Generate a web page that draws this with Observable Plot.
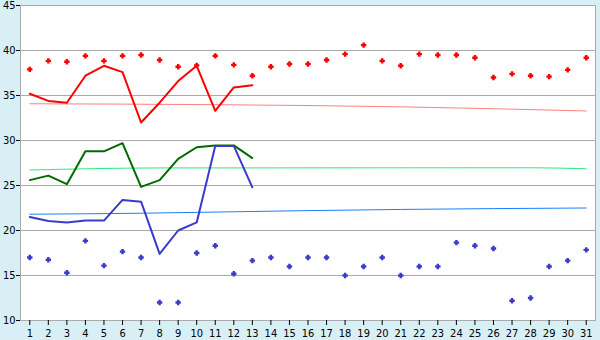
<!DOCTYPE html>
<html>
<head>
<meta charset="utf-8">
<script src="https://cdn.jsdelivr.net/npm/d3@7"></script>
<script src="https://cdn.jsdelivr.net/npm/@observablehq/plot@0.6"></script>
<style>
  html, body { margin: 0; padding: 0; background: #d9eff6; }
  svg { display: block; }
</style>
</head>
<body>
<div id="chart"></div>
<script>
const days = [1,2,3,4,5,6,7,8,9,10,11,12,13,14,15,16,17,18,19,20,21,22,23,24,25,26,27,28,29,30,31];
const yTicks = [10, 15, 20, 25, 30, 35, 40, 45];

// Record highs / lows (markers)
const maxPoints = [37.9, 38.85, 38.75, 39.4, 38.85, 39.4, 39.5, 38.95, 38.2, 38.35, 39.4, 38.4, 37.2, 38.2, 38.5, 38.5, 38.95, 39.6, 40.6, 38.85, 38.3, 39.6, 39.5, 39.5, 39.2, 37.0, 37.4, 37.2, 37.1, 37.85, 39.2];
const minPoints = [17.0, 16.75, 15.3, 18.85, 16.1, 17.65, 17.0, 12.0, 12.0, 17.5, 18.3, 15.2, 16.65, 17.0, 16.0, 17.0, 17.0, 15.0, 16.0, 17.0, 15.0, 16.0, 16.0, 18.65, 18.3, 18.0, 12.2, 12.5, 16.0, 16.65, 17.85];

// Current month (days 1-13)
const maxLine = [35.2, 34.4, 34.2, 37.2, 38.3, 37.6, 32.0, 34.2, 36.6, 38.3, 33.3, 35.9, 36.15];
const meanLine = [25.6, 26.1, 25.15, 28.8, 28.8, 29.7, 24.85, 25.6, 27.95, 29.25, 29.45, 29.45, 28.05];
const minLine = [21.5, 21.05, 20.9, 21.1, 21.1, 23.4, 23.2, 17.4, 20.0, 20.9, 29.4, 29.4, 24.8];

// Normals (thin lines)
const normMaxDays = [1, 11, 21, 26, 31];
const normMax = [34.08, 33.98, 33.74, 33.53, 33.28];
const normMeanDays = [1, 8, 28, 31];
const normMean = [26.72, 26.95, 26.97, 26.86];
const normMinDays = [1, 7, 12, 16, 21, 31];
const normMin = [21.81, 21.92, 22.08, 22.21, 22.34, 22.5];

const pts = (xs, ys) => ys.map((v, i) => ({x: xs[i], y: v}));

// Thick-armed plus marker
const fatPlus = {
  draw(context, size) {
    const r = Math.sqrt(size / Math.PI);
    const a = r * 0.45;
    context.moveTo(-a, -r);
    context.lineTo(a, -r);
    context.lineTo(a, -a);
    context.lineTo(r, -a);
    context.lineTo(r, a);
    context.lineTo(a, a);
    context.lineTo(a, r);
    context.lineTo(-a, r);
    context.lineTo(-a, a);
    context.lineTo(-r, a);
    context.lineTo(-r, -a);
    context.lineTo(-a, -a);
    context.closePath();
  }
};

const chart = Plot.plot({
  width: 600,
  height: 340,
  marginLeft: 20,
  marginRight: 5,
  marginTop: 5,
  marginBottom: 20,
  style: {
    background: "#d9eff6",
    fontFamily: "'DejaVu Sans Condensed', 'DejaVu Sans', sans-serif",
    fontStretch: "condensed",
    fontSize: "11px",
    color: "black"
  },
  x: {domain: [0.5, 31.5]},
  y: {domain: [10, 45]},
  marks: [
    Plot.frame({fill: "white", stroke: "#aaaaaa"}),
    Plot.gridY(yTicks, {stroke: "#aaaaaa", strokeOpacity: 1}),
    Plot.axisY(yTicks, {tickSize: 4, tickPadding: 1, label: null, stroke: "black", fill: "black"}),
    Plot.axisX(days, {tickSize: 5, tickPadding: 4, label: null, stroke: "black", fill: "black"}),
    Plot.line(pts(normMaxDays, normMax), {x: "x", y: "y", stroke: "#ff8080", strokeWidth: 1, curve: "monotone-x"}),
    Plot.line(pts(normMeanDays, normMean), {x: "x", y: "y", stroke: "#2ee883", strokeWidth: 1, curve: "monotone-x"}),
    Plot.line(pts(normMinDays, normMin), {x: "x", y: "y", stroke: "#1a80ff", strokeWidth: 1, curve: "monotone-x"}),
    Plot.line(pts(days, maxLine), {x: "x", y: "y", stroke: "#ff0000", strokeWidth: 2}),
    Plot.line(pts(days, meanLine), {x: "x", y: "y", stroke: "#006a00", strokeWidth: 2}),
    Plot.line(pts(days, minLine), {x: "x", y: "y", stroke: "#3a3acc", strokeWidth: 2}),
    Plot.dot(pts(days, maxPoints), {x: "x", y: "y", symbol: fatPlus, r: 2.7, fill: "#ff0000", stroke: "none"}),
    Plot.dot(pts(days, minPoints), {x: "x", y: "y", symbol: fatPlus, r: 2.7, fill: "#3a3acc", stroke: "none"})
  ]
});
document.getElementById("chart").appendChild(chart);
</script>
</body>
</html>
